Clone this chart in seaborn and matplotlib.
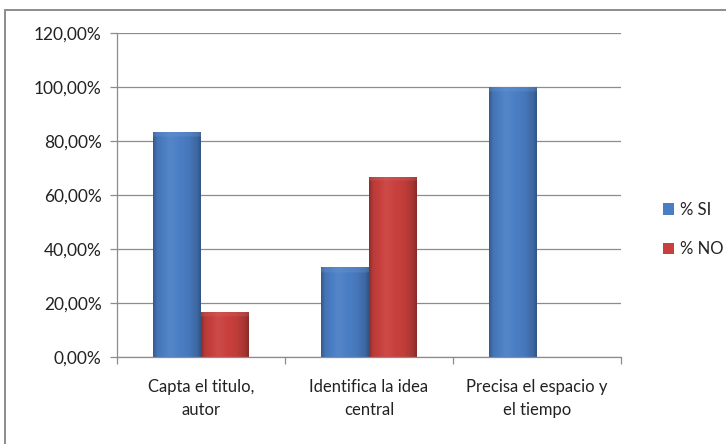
import numpy as np
import pandas as pd
import matplotlib
matplotlib.use("Agg")
import matplotlib.pyplot as plt
from matplotlib.patches import Rectangle, Patch
from matplotlib.ticker import FuncFormatter, FixedLocator
from matplotlib.colors import to_rgb
import seaborn as sns

categories = ["Capta el titulo,\nautor", "Identifica la idea\ncentral", "Precisa el espacio y\nel tiempo"]
series = ["% SI", "% NO"]
si_values = [83.33, 33.33, 100.0]
no_values = [16.67, 66.67, 0.0]
yticks = [0, 20, 40, 60, 80, 100, 120]

base_colors = {"% SI": "#4A7EC4", "% NO": "#C8403D"}

df = pd.DataFrame({
    "categoria": categories * 2,
    "serie": [series[0]] * 3 + [series[1]] * 3,
    "valor": si_values + no_values,
})

sns.set_theme(style="white")
plt.rcParams["font.family"] = ["Lato", "DejaVu Sans"]

fig = plt.figure(figsize=(7.26, 4.44), dpi=100)
ax = fig.add_axes([117 / 726, 1 - 357 / 444, (621 - 117) / 726, (357 - 33) / 444])

sns.barplot(data=df, x="categoria", y="valor", hue="serie", order=categories,
            hue_order=series, palette=base_colors, width=0.571, gap=0,
            saturation=1, ax=ax, legend=False, edgecolor="none")

ax.set_ylim(0, 120)
ax.set_xlim(-0.5, 2.5)
ax.yaxis.set_major_locator(FixedLocator(yticks))
ax.yaxis.set_major_formatter(FuncFormatter(lambda v, p: f"{v:.2f}%".replace(".", ",")))
ax.set_xlabel("")
ax.set_ylabel("")

# Horizontal gridlines
ax.grid(axis="y", color="#8C8C8C", linewidth=0.9)
ax.set_axisbelow(True)

for side in ["top", "right"]:
    ax.spines[side].set_visible(False)
for side in ["left", "bottom"]:
    ax.spines[side].set_color("#8C8C8C")
    ax.spines[side].set_linewidth(0.9)

# Category boundaries as tick marks on the x axis, labels centred
ax.set_xticks([-0.5, 0.5, 1.5, 2.5], minor=True)
ax.tick_params(axis="x", which="minor", length=5, color="#8C8C8C", width=0.9, direction="out", bottom=True)
ax.tick_params(axis="x", which="major", length=0, labelsize=12, pad=16, colors="#222222")
ax.tick_params(axis="y", which="major", length=5, color="#8C8C8C", width=0.9, direction="out", left=True,
               labelsize=12.5, pad=6, colors="#222222")
for lbl in ax.get_xticklabels():
    lbl.set_linespacing(1.5)


def shade(rgb, f):
    rgb = np.array(rgb)
    if f >= 1:
        return rgb + (1 - rgb) * (f - 1)
    return rgb * f


# Bevelled gradient fill on each bar
bar_series = [series[0]] * 3 + [series[1]] * 3
for patch, s in zip(ax.patches, bar_series):
    h = patch.get_height()
    if h <= 0:
        continue
    x0 = patch.get_x()
    w = patch.get_width()
    rgb = to_rgb(base_colors[s])
    nx, ny = 60, 200
    xs = np.linspace(0, 1, nx)
    prof = np.interp(xs, [0, 0.08, 0.35, 0.75, 0.93, 1], [0.72, 0.92, 1.06, 0.95, 0.82, 0.68])
    img = np.zeros((ny, nx, 3))
    for i in range(nx):
        img[:, i, :] = shade(rgb, prof[i])
    # slightly lighter bevel at the top of the bar
    top_rows = max(1, int(ny * 2.0 / h))
    for j in range(min(top_rows, ny)):
        img[j, :, :] = np.clip(img[j, :, :] * 0.7 + 0.3 * shade(rgb, 1.2), 0, 1)
    img = np.clip(img, 0, 1)
    im = ax.imshow(img, extent=[x0, x0 + w, 0, h], aspect="auto", origin="upper", zorder=patch.get_zorder() + 0.1)
    im.set_clip_path(patch)
ax.set_xlim(-0.5, 2.5)
ax.set_ylim(0, 120)

# Legend
handles = [Patch(facecolor=base_colors[s], edgecolor="none") for s in series]
fig.legend(handles, series, loc="center left", bbox_to_anchor=(648 / 726, 1 - 229.5 / 444),
           frameon=False, fontsize=12, handlelength=0.65, handleheight=0.65,
           handletextpad=0.35, labelspacing=1.4, labelcolor="#222222")

# Chart border (right and bottom edges run past the canvas)
fig.patches.append(Rectangle((5 / 726, -10 / 444), 740 / 726, 444 / 444, transform=fig.transFigure,
                             fill=False, edgecolor="#8C8C8C", linewidth=1.4))

fig.savefig("out.png", dpi=100)
